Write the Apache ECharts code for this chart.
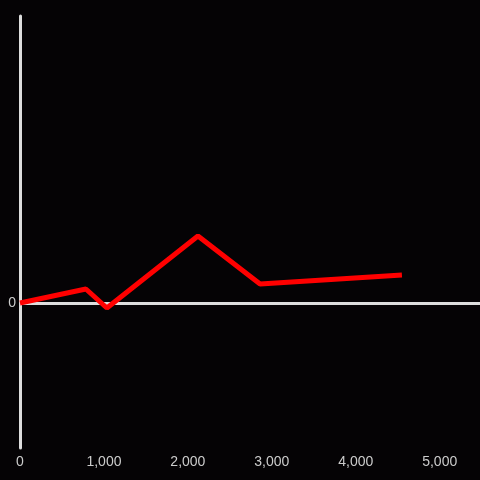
<!DOCTYPE html>
<html>
<head>
<meta charset="utf-8">
<style>
  html, body { margin: 0; padding: 0; background: #050305; }
  #chart { width: 480px; height: 480px; }
</style>
<script src="https://cdn.jsdelivr.net/npm/echarts@6/dist/echarts.min.js"></script>
</head>
<body>
<div id="chart"></div>
<script>
const xValues = [0, 785, 1035, 2120, 2860, 4550]
const yValues = [0, 14, -5, 67, 19, 28]
const xTicks = [0, 1000, 2000, 3000, 4000, 5000]

const myChart = echarts.init(document.getElementById('chart'))
const option = {
  backgroundColor: '#050305',
  animation: false,
  grid: { left: 20, right: 0, top: 16, bottom: 32 },
  xAxis: {
    type: 'value',
    min: 0,
    max: 5480,
    interval: 1000,
    axisLine: { show: false },
    axisTick: { show: false },
    splitLine: { show: false },
    axisLabel: {
      color: '#cccccc',
      fontSize: 14,
      margin: 7,
      showMaxLabel: false,
      formatter: function (v) {
        return xTicks.indexOf(v) >= 0 ? v.toLocaleString('en-US') : ''
      }
    }
  },
  yAxis: {
    type: 'value',
    min: -145,
    max: 287,
    interval: 145,
    axisLine: { show: true, onZero: false, lineStyle: { color: '#dddddd', width: 3 } },
    axisTick: { show: false },
    splitLine: { show: false },
    axisLabel: {
      color: '#cccccc',
      fontSize: 14,
      margin: 4,
      showMaxLabel: false,
      formatter: function (v) { return v === 0 ? '0' : '' }
    }
  },
  series: [
    {
      type: 'line',
      data: xValues.map((x, i) => [x, yValues[i]]),
      symbol: 'none',
      lineStyle: { color: '#ff0000', width: 5 },
      z: 3,
      markLine: {
        silent: true,
        symbol: 'none',
        label: { show: false },
        lineStyle: { color: '#dddddd', width: 3, type: 'solid' },
        data: [{ yAxis: 0 }],
        z: 2
      }
    }
  ]
}
myChart.setOption(option)
</script>
</body>
</html>
